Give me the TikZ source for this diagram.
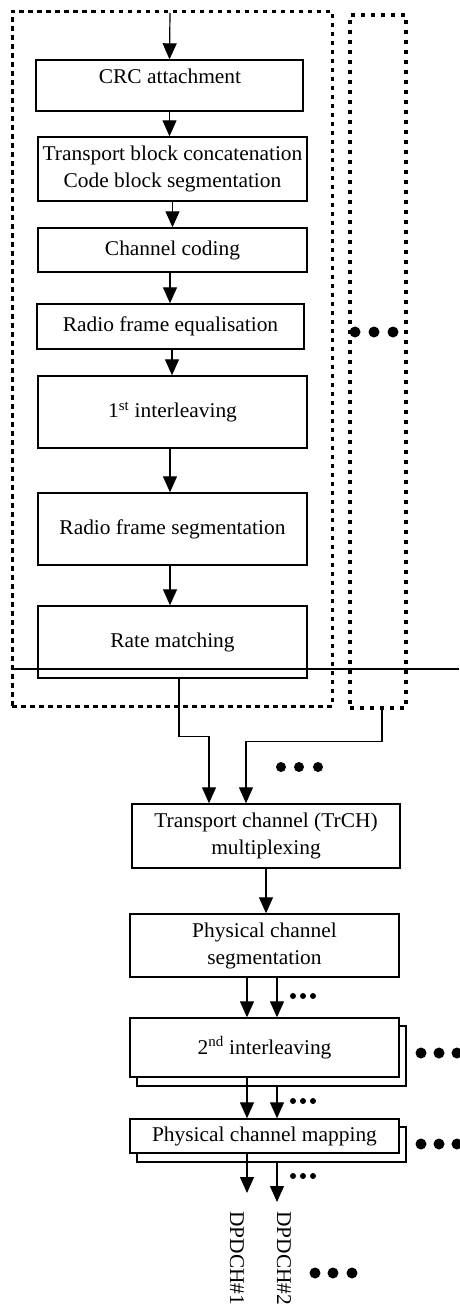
\documentclass[tikz,border=0pt]{standalone}
\usepackage{fontspec}
\setmainfont{Liberation Serif}[FakeStretch=1.02]
\usetikzlibrary{arrows.meta,calc}
\begin{document}
\begin{tikzpicture}[x=1pt,y=-1pt,
  blk/.style={draw, line width=1.4pt, fill=white, inner sep=0pt, align=center, font=\fontsize{21}{27}\selectfont},
  arr/.style={line width=1.2pt, -{Triangle[length=16pt,width=14pt]}},
  dotA/.style={draw, line width=3pt, dash pattern=on 4.5pt off 4.5pt, inner sep=0pt},
  dotB/.style={draw, line width=4.2pt, dash pattern=on 4pt off 6pt, inner sep=0pt},
  lbl/.style={font=\fontsize{21}{27}\selectfont, inner sep=0pt}
]
\useasboundingbox (0,0) rectangle (459,1312);

% group boxes
\node[dotA, minimum width=320pt, minimum height=695pt] (grp1) at (172,358.5) {};
\node[dotB, minimum width=56pt, minimum height=693pt] (grp2) at (378,361.5) {};

% upper chain
\node[blk, minimum width=267pt, minimum height=51pt] (crc) at (169.5,85.5) {};
\node[lbl] (crct) at (170,76) {CRC attachment};
\node[blk, minimum width=269pt, minimum height=64pt] (tbc) at (172.5,169) {Transport block concatenation\\Code block segmentation};
\node[blk, minimum width=269pt, minimum height=44pt] (cc) at (172.5,250) {Channel coding};
\node[blk, minimum width=267pt, minimum height=45pt] (rfe) at (170.5,326.5) {Radio frame equalisation};
\node[blk, minimum width=269pt, minimum height=72pt] (il1) at (172.5,412) {1\textsuperscript{st} interleaving};
\node[blk, minimum width=269pt, minimum height=72pt] (rfs) at (172.5,529) {Radio frame segmentation};
\node[blk, minimum width=269pt, minimum height=72pt] (rm) at (172.5,642) {Rate matching};

% lower chain
\node[blk, minimum width=268pt, minimum height=64pt] (trch) at (266,836) {Transport channel (TrCH)\\multiplexing};
\node[blk, minimum width=269pt, minimum height=63pt] (pcs) at (264.5,945.5) {Physical channel\\segmentation};
\node[blk, minimum width=269pt, minimum height=60pt] (il2b) at (271.5,1056) {};
\node[blk, minimum width=269pt, minimum height=59pt] (il2) at (264.5,1047.5) {2\textsuperscript{nd} interleaving};
\node[blk, minimum width=269pt, minimum height=35pt] (pcmb) at (271.5,1144.5) {};
\node[blk, minimum width=269pt, minimum height=34pt] (pcm) at (264.5,1136) {Physical channel mapping};

% horizontal line
\coordinate (hl) at (459,669);
\draw[line width=1.6pt] (grp1.west |- hl) -- (hl);

% arrows upper
\coordinate (in) at (170,13);
\draw[arr] (in) -- (crc.north);
\draw[arr] (crc.south) -- (crc.south |- tbc.north);
\draw[arr] (tbc.south) -- (tbc.south |- cc.north);
\draw[arr] ($(cc.south)+(-2.5,0)$) -- ($(rfe.north)+(-0.5,0)$);
\draw[arr] ($(rfe.south)+(1.5,0)$) -- ($(il1.north)+(-0.5,0)$);
\draw[arr] ($(il1.south)+(-2.5,0)$) -- ($(rfs.north)+(-2.5,0)$);
\draw[arr] ($(rfs.south)+(-2.5,0)$) -- ($(rm.north)+(-2.5,0)$);

% merging into TrCH multiplexing
\draw[arr] ($(rm.south)+(6.5,0)$) -- ++(0,58) -| ($(trch.north)+(-57,0)$);
\draw[arr] ($(grp2.south)+(4,0)$) -- ++(0,31) -| ($(trch.north)+(-20,0)$);

% lower arrows
\draw[arr] (trch.south) -- (trch.south |- pcs.north);
\draw[arr] ($(pcs.south)+(-17.5,0)$) -- ($(il2.north)+(-17.5,0)$);
\draw[arr] ($(pcs.south)+(12.5,0)$) -- ($(il2.north)+(12.5,0)$);
\draw[arr] ($(il2.south)+(-17.5,0)$) -- ($(pcm.north)+(-17.5,0)$);
\draw[arr] ($(il2b.south)+(5.5,0)$) -- ($(pcm.north)+(12.5,0)$);
\coordinate (o1) at (247,1193);
\coordinate (o2) at (277,1202);
\draw[arr] ($(pcm.south)+(-17.5,0)$) -- (o1);
\draw[arr] ($(pcmb.south)+(5.5,0)$) -- (o2);

% output labels
\node[lbl, rotate=-90, anchor=west] (d1) at (237,1211) {DPDCH\#1};
\node[lbl, rotate=-90, anchor=west] (d2) at (284,1211) {DPDCH\#2};

% ellipsis dots
\foreach \x in {355,374,393} \fill (\x,332) circle (5.5pt);
\foreach \x in {281,299,318} \fill (\x,767) circle (5pt);
\foreach \y in {996,1101,1176} {\foreach \x in {293,303,313} \fill (\x,\y) circle (3pt);}
\foreach \y in {1053,1144} {\foreach \x in {421,439,457} \fill (\x,\y) circle (5.5pt);}
\foreach \x in {315,333,352} \fill (\x,1273) circle (5.5pt);
\end{tikzpicture}
\end{document}
